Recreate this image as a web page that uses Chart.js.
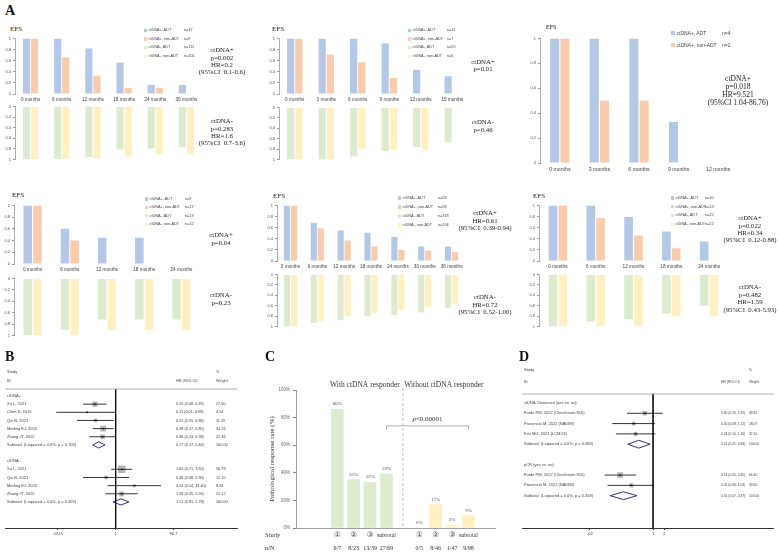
<!DOCTYPE html>
<html>
<head>
<meta charset="utf-8">
<script src="https://cdn.jsdelivr.net/npm/chart.js@4.4.0/dist/chart.umd.min.js"></script>
<style>
body { margin: 0; background: #fff; }
#fig { position: relative; width: 778px; height: 553px; overflow: hidden; background: #fff; }
#fig canvas { position: absolute; }
.t { position: absolute; white-space: nowrap; }
.serif { font-family: "Liberation Serif", "Times New Roman", serif; color: #222; }
.sans { font-family: "Liberation Sans", Arial, sans-serif; color: #444; }
.ann { text-align: center; transform: translateX(-50%); }
.letter { font-family: "Liberation Serif", serif; font-weight: bold; font-size: 14px; line-height: 14px; color: #111; }
</style>
</head>
<body>
<div id="fig"></div>
<script>
// ---- panel A data (EFS by ctDNA status) ----
var groupNames = ['ctDNA+, ADT', 'ctDNA+, non-ADT', 'ctDNA-, ADT', 'ctDNA-, non-ADT'];

var s1Months = ['0 months', '6 months', '12 months', '18 months', '24 months', '30 months'];
var s1PosADT = [1, 1, 0.82, 0.56, 0.16, 0.16];
var s1PosNon = [1, 0.66, 0.33, 0.11, 0.11, null];
var s1NegADT = [1, 0.99, 0.95, 0.81, 0.79, 0.77];
var s1NegNon = [1, 0.98, 0.97, 0.94, 0.9, 0.9];
var s1N = ['n=37', 'n=9', 'n=112', 'n=101'];

var s2Months = ['0 months', '3 months', '6 months', '9 months', '12 months', '15 months'];
var s2PosADT = [1, 1, 1, 0.91, 0.43, 0.32];
var s2PosNon = [1, 0.71, 0.57, 0.29, null, null];
var s2NegADT = [1, 1, 0.94, 0.84, 0.76, 0.67];
var s2NegNon = [1, 1, 0.8, 0.8, 0.8, null];
var s2N = ['n=11', 'n=7', 'n=55', 'n=6'];

var s3Months = ['0 months', '3 months', '6 months', '9 months', '12 months'];
var s3PosADT = [1, 1, 1, 0.33, null];
var s3PosNon = [1, 0.5, 0.5, null, null];
var s3N = ['n=4', 'n=2'];

var s4Months = ['0 months', '6 months', '12 months', '18 months', '24 months'];
var s4PosADT = [1, 0.6, 0.45, 0.45, null];
var s4PosNon = [1, 0.4, null, null, null];
var s4NegADT = [1, 0.9, 0.72, 0.72, 0.72];
var s4NegNon = [1, 1, 0.9, 0.9, 0.9];
var s4N = ['n=9', 'n=17', 'n=13', 'n=12'];

var s5Months = ['0 months', '6 months', '12 months', '18 months', '24 months', '30 months', '36 months'];
var s5PosADT = [1, 0.69, 0.55, 0.51, 0.43, 0.26, 0.26];
var s5PosNon = [1, 0.59, 0.37, 0.26, 0.2, 0.19, 0.16];
var s5NegADT = [1, 0.93, 0.88, 0.8, 0.78, 0.73, 0.64];
var s5NegNon = [1, 0.9, 0.8, 0.74, 0.68, 0.62, 0.56];
var s5N = ['n=58', 'n=58', 'n=318', 'n=204'];

var s6Months = ['0 months', '6 months', '12 months', '18 months', '24 months'];
var s6PosADT = [1, 1, 0.79, 0.53, 0.35];
var s6PosNon = [1, 0.77, 0.46, 0.23, null];
var s6NegADT = [1, 0.9, 0.86, 0.75, 0.6];
var s6NegNon = [1, 1, 1, 0.8, 0.8];
var s6N = ['n=10', 'n=13', 'n=22', 'n=22'];

// ---- panel B data (forest, HR by ctDNA) ----
var bNames = ['ctDNA+', 'Xu L, 2021', 'Chen K, 2019', 'Qiu B, 2021', 'Meding EJ, 2020', 'Zhang JT, 2022',
  'Subtotal  (I-squared = 0.0%, p = 0.706)', '', 'ctDNA-', 'Xu L, 2021', 'Qiu B, 2021', 'Meding EJ, 2020',
  'Zhang JT, 2022', 'Subtotal  (I-squared = 0.0%, p = 0.459)'];
var bHR = [null, 0.20, 0.11, 0.21, 0.38, 0.36, 0.27, null, null, 1.60, 0.48, 4.24, 1.58, 1.51];
var bLow = [null, 0.08, 0.01, 0.05, 0.17, 0.13, 0.17, null, null, 0.71, 0.08, 0.54, 0.45, 0.81];
var bHigh = [null, 0.49, 0.98, 0.86, 0.85, 0.98, 0.44, null, null, 3.60, 2.80, 33.40, 5.56, 2.78];
var bWeight = [null, 27.60, 4.54, 11.29, 34.26, 22.36, 100.00, null, null, 56.79, 12.15, 8.94, 22.12, 100.00];
var bTicks = [0.0115, 1, 86.7];
var bTickLabels = ['.0115', '1', '86.7'];

// ---- panel C data (pathological response) ----
var cStudy = ['\u2460', '\u2461', '\u2462', 'subtotal'];
var cWith = [86, 35, 33, 39];
var cWithout = [0, 17, 2, 9];
var cWithN = ['6/7', '8/23', '13/39', '27/69'];
var cWithoutN = ['0/5', '8/46', '1/47', '9/98'];

// ---- panel D data (forest, EFS by clearance / pCR) ----
var dNames = ['ctDNA Clearance (yes vs. no)', 'Forde PM, 2022 (Checkmate 816)', 'Provencio M, 2022 (NADIM)',
  'Kris MG, 2021 (LCMC3)', 'Subtotal  (I-squared = 0.0%, p = 0.683)', '', 'pCR (yes vs. no)',
  'Forde PM, 2022 (Checkmate 816)', 'Provencio M, 2022 (NADIM)', 'Subtotal  (I-squared = 0.0%, p = 0.458)'];
var dHR = [null, 0.60, 0.30, 0.34, 0.41, null, null, 0.13, 0.26, 0.16];
var dLow = [null, 0.20, 0.08, 0.10, 0.21, null, null, 0.05, 0.06, 0.07];
var dHigh = [null, 1.81, 1.12, 1.16, 0.83, null, null, 0.35, 1.03, 0.37];
var dWeight = [null, 39.82, 28.07, 32.10, 100.00, null, null, 66.40, 33.60, 100.00];
var dTicks = [0.02, 1, 2];
var dTickLabels = ['.02', '1', '2'];

var BLUE = '#b4c7e7', ORANGE = '#f8cbad', GREEN = '#dcebd0', YELLOW = '#fff0c4';
var fig = document.getElementById('fig');

function addCanvas(l, t, w, h) {
    var c = document.createElement('canvas');
    c.width = w; c.height = h;
    c.style.left = l + 'px'; c.style.top = t + 'px';
    c.style.width = w + 'px'; c.style.height = h + 'px';
    fig.appendChild(c);
    return c;
}

function txt(x, y, s, cls, css) {
    var d = document.createElement('div');
    d.className = 't ' + cls;
    d.style.left = x + 'px'; d.style.top = y + 'px';
    if (css) d.style.cssText += css;
    d.innerHTML = s;
    fig.appendChild(d);
    return d;
}

function ann(cx, y1, lines, fs, lh) {
    txt(cx, y1 - lh / 2, lines.join('<br>'), 'serif ann', 'font-size:' + fs + 'px;line-height:' + lh + 'px;');
}

function legend(x, y0, rowH, names, ns, colors, nX, fs) {
    for (var i = 0; i < names.length; i++) {
        var y = y0 + i * rowH, s = fs * 0.8;
        var b = document.createElement('div');
        b.style.cssText = 'position:absolute;left:' + x + 'px;top:' + (y - s / 2) + 'px;width:' + s + 'px;height:' + s + 'px;background:' + colors[i];
        fig.appendChild(b);
        var css = 'font-size:' + fs + 'px;line-height:' + (fs * 1.2) + 'px;';
        txt(x + s + 1.5, y - fs * 0.6, names[i], 'sans', css);
        txt(nX, y - fs * 0.6, ns[i], 'sans', css);
    }
}

function fmtTick(v) {
    if (Math.abs(v) < 1e-9) return '0';
    if (Math.abs(v - 1) < 1e-9) return '1';
    return v.toFixed(1);
}

// one half (upper ctDNA+ / lower ctDNA-) of an EFS panel
function efsHalf(area, labels, a, b, colA, colB, lower, xFont) {
    var padT = lower ? 3 : 4, padB = lower ? 3 : 0, axW = 14;
    var xH = lower ? 0 : (area.xh || 10);
    var c = addCanvas(area.l - axW, area.t - padT, area.r - area.l + axW + 2, area.b - area.t + padT + padB + xH);
    new Chart(c, {
        type: 'bar',
        data: {
            labels: labels,
            datasets: [
                { data: a, backgroundColor: colA, categoryPercentage: 0.52, barPercentage: 0.88 },
                { data: b, backgroundColor: colB, categoryPercentage: 0.52, barPercentage: 0.88 }
            ]
        },
        options: {
            responsive: false,
            animation: false,
            layout: { padding: { top: padT, right: 2, bottom: padB, left: 0 } },
            plugins: { legend: { display: false }, tooltip: { enabled: false } },
            scales: {
                x: {
                    display: !lower,
                    grid: { display: false, drawTicks: false },
                    border: { display: false },
                    ticks: { font: { family: 'Liberation Sans', size: xFont || 4.7 }, color: '#444', padding: 3, maxRotation: 0, autoSkip: false },
                    afterFit: function(s) { s.height = xH; }
                },
                y: {
                    min: 0, max: 1, reverse: lower,
                    ticks: { stepSize: 0.2, font: { family: 'Liberation Sans', size: 4 }, color: '#555', padding: 2, callback: fmtTick },
                    grid: { display: true, drawOnChartArea: false, drawTicks: true, tickLength: 2, color: '#999' },
                    border: { display: true, color: '#999', width: 0.8 },
                    afterFit: function(s) { s.width = axW; }
                }
            }
        }
    });
}

// ---- panel A ----
txt(5, 4, 'A', 'letter');
var efsCss = 'font-size:7px;line-height:8px;';

txt(10, 25, 'EFS', 'serif', efsCss);
efsHalf({ l: 15, t: 38, r: 202, b: 94 }, s1Months, s1PosADT, s1PosNon, BLUE, ORANGE, false);
efsHalf({ l: 15, t: 105, r: 202, b: 161 }, s1Months, s1NegADT, s1NegNon, GREEN, YELLOW, true);
legend(144, 30.3, 8.7, groupNames, s1N, [BLUE, ORANGE, GREEN, YELLOW], 184, 3.8);
ann(222, 50, ['ctDNA+', 'p=0.002', 'HR=0.2', '(95%CI&nbsp; 0.1-0.6)'], 6.8, 7.1);
ann(222, 121, ['ctDNA-', 'p=0.283', 'HR=1.6', '(95%CI&nbsp; 0.7-3.6)'], 6.8, 7.1);

txt(272, 25, 'EFS', 'serif', efsCss);
efsHalf({ l: 279, t: 38, r: 468, b: 94 }, s2Months, s2PosADT, s2PosNon, BLUE, ORANGE, false);
efsHalf({ l: 279, t: 106, r: 468, b: 161 }, s2Months, s2NegADT, s2NegNon, GREEN, YELLOW, true);
legend(408, 30.3, 8.7, groupNames, s2N, [BLUE, ORANGE, GREEN, YELLOW], 447, 3.8);
ann(483, 61.5, ['ctDNA+', 'p=0.01'], 6.8, 7.3);
ann(483, 122, ['ctDNA-', 'p=0.46'], 6.8, 7.3);

txt(546, 23, 'EFS', 'serif', 'font-size:6px;line-height:8px;');
efsHalf({ l: 540, t: 38, r: 738, b: 163, xh: 13 }, s3Months, s3PosADT, s3PosNon, BLUE, ORANGE, false, 5.2);
legend(671, 33, 12, groupNames.slice(0, 2), s3N, [BLUE, ORANGE], 722, 5);
ann(738, 79, ['ctDNA+', 'p=0.018', 'HR=9.521', '(95%CI 1.04-86.76)'], 7.5, 8);

txt(12, 191, 'EFS', 'serif', efsCss);
efsHalf({ l: 14, t: 205, r: 200, b: 264 }, s4Months, s4PosADT, s4PosNon, BLUE, ORANGE, false);
efsHalf({ l: 14, t: 277, r: 200, b: 337 }, s4Months, s4NegADT, s4NegNon, GREEN, YELLOW, true);
legend(145, 199, 8.4, groupNames, s4N, [BLUE, ORANGE, GREEN, YELLOW], 185, 3.8);
ann(221, 235, ['ctDNA+', 'p=0.04'], 6.8, 7.3);
ann(221, 295, ['ctDNA-', 'p=0.23'], 6.8, 7.3);

txt(273, 192, 'EFS', 'serif', efsCss);
efsHalf({ l: 277, t: 205, r: 465, b: 261 }, s5Months, s5PosADT, s5PosNon, BLUE, ORANGE, false);
efsHalf({ l: 277, t: 273, r: 465, b: 328 }, s5Months, s5NegADT, s5NegNon, GREEN, YELLOW, true);
legend(398, 198, 9, groupNames, s5N, [BLUE, ORANGE, GREEN, YELLOW], 438, 3.8);
ann(485, 213, ['ctDNA+', 'HR=0.61', '(95%CI&nbsp; 0.39-0.94)'], 6.8, 7.5);
ann(485, 297, ['ctDNA-', 'HR=0.72', '(95%CI&nbsp; 0.52-1.00)'], 6.8, 7.5);

txt(533, 192, 'EFS', 'serif', efsCss);
efsHalf({ l: 539, t: 205, r: 728, b: 261 }, s6Months, s6PosADT, s6PosNon, BLUE, ORANGE, false);
efsHalf({ l: 539, t: 273, r: 728, b: 328 }, s6Months, s6NegADT, s6NegNon, GREEN, YELLOW, true);
legend(671, 198, 8.8, groupNames, s6N, [BLUE, ORANGE, GREEN, YELLOW], 705, 3.8);
ann(750, 218, ['ctDNA+', 'p=0.022', 'HR=0.34', '(95%CI&nbsp; 0.12-0.88)'], 6.8, 7.2);
ann(750, 287, ['ctDNA-', 'p=0.482', 'HR=1.59', '(95%CI&nbsp; 0.43-5.93)'], 6.8, 7.6);

// ---- forest plots (B, D) ----
function forestPlot(left, top, w, h, pad, names, hr, lo, hi, wt, ax) {
    var c = addCanvas(left, top, w, h);
    var ds = [], boxes = [], radii = [], dots = [];
    for (var i = 0; i < names.length; i++) {
        if (hr[i] == null) continue;
        if (names[i].indexOf('Subtotal') === 0) {
            ds.push({
                showLine: true, order: 1, pointRadius: 0, borderColor: '#1c1c7c', borderWidth: 0.9,
                data: [{ x: lo[i], y: i }, { x: hr[i], y: i - 0.38 }, { x: hi[i], y: i }, { x: hr[i], y: i + 0.38 }, { x: lo[i], y: i }]
            });
        } else {
            ds.push({ showLine: true, order: 1, pointRadius: 0, borderColor: '#000', borderWidth: 0.8,
                data: [{ x: lo[i], y: i }, { x: hi[i], y: i }] });
            boxes.push({ x: hr[i], y: i });
            radii.push(ax.box * Math.sqrt(wt[i]) / Math.SQRT2);
            dots.push({ x: hr[i], y: i });
        }
    }
    ds.push({ data: boxes, order: 2, pointStyle: 'rect', pointRadius: radii, backgroundColor: '#b5b5b5', borderWidth: 0 });
    ds.push({ data: dots, order: 0, pointStyle: 'rect', pointRadius: 0.9, backgroundColor: '#000', borderWidth: 0 });
    ds.push({ data: [{ x: 1, y: ax.yMin }, { x: 1, y: ax.yMax }], order: 0, showLine: true, pointRadius: 0, borderColor: '#000', borderWidth: 0.8 });

    var textPlugin = {
        id: 'forestText',
        afterDraw: function(chart) {
            var ctx = chart.ctx, a = chart.chartArea, ys = chart.scales.y;
            var nameFont = ax.fs + 'px "Liberation Sans", Arial, sans-serif';
            var numFont = ax.numFs + 'px "Liberation Sans", Arial, sans-serif';
            ctx.save();
            ctx.strokeStyle = '#999'; ctx.lineWidth = 0.8;
            ctx.beginPath(); ctx.moveTo(a.left, a.top); ctx.lineTo(a.right, a.top); ctx.stroke();
            ctx.fillStyle = '#444';
            ctx.textBaseline = 'middle'; ctx.textAlign = 'left';
            ctx.font = nameFont;
            ctx.fillText('Study', ax.nameX, a.top - ax.h1);
            ctx.fillText('ID', ax.nameX, a.top - ax.h2);
            ctx.font = numFont;
            ctx.fillText('HR (95% CI)', ax.hrX, a.top - ax.h2);
            ctx.fillText('%', ax.wX, a.top - ax.h1);
            ctx.fillText('Weight', ax.wX, a.top - ax.h2);
            for (var i = 0; i < names.length; i++) {
                var py = ys.getPixelForValue(i);
                ctx.font = nameFont;
                ctx.fillText(names[i], ax.nameX, py);
                if (hr[i] != null) {
                    ctx.font = numFont;
                    ctx.fillText(hr[i].toFixed(2) + ' (' + lo[i].toFixed(2) + ', ' + hi[i].toFixed(2) + ')', ax.hrX, py);
                    ctx.fillText(wt[i].toFixed(2), ax.wX, py);
                }
            }
            ctx.restore();
        }
    };

    new Chart(c, {
        type: 'scatter',
        data: { datasets: ds },
        plugins: [textPlugin],
        options: {
            responsive: false,
            animation: false,
            layout: { padding: pad },
            plugins: { legend: { display: false }, tooltip: { enabled: false } },
            scales: {
                x: {
                    type: 'logarithmic', min: ax.xMin, max: ax.xMax,
                    afterBuildTicks: function(s) { s.ticks = ax.ticks.map(function(v) { return { value: v }; }); },
                    ticks: { autoSkip: false, maxRotation: 0, padding: 1, color: '#444',
                        font: { family: 'Liberation Sans', size: 4 },
                        callback: function(v, idx) { return ax.tickLabels[idx]; } },
                    grid: { display: true, drawOnChartArea: false, drawTicks: true, tickLength: 2, color: '#000', lineWidth: 0.8 },
                    border: { display: true, color: '#000', width: 0.8 },
                    afterFit: function(s) { s.height = 12; }
                },
                y: { type: 'linear', display: false, min: ax.yMin, max: ax.yMax, reverse: true }
            }
        }
    });
}

txt(5, 350, 'B', 'letter');
forestPlot(0, 360, 260, 180, { top: 29, left: 4, right: 23, bottom: 0 },
    bNames, bHR, bLow, bHigh, bWeight,
    { xMin: 0.000195, xMax: 12000, ticks: bTicks, tickLabels: bTickLabels, yMin: -0.86, yMax: 16.2,
      box: 1.0, nameX: 7, hrX: 176, wX: 216, h1: 17, h2: 8, fs: 4, numFs: 3.8 });

txt(519, 350, 'D', 'letter');
forestPlot(518, 365, 260, 175, { top: 29, left: 2, right: 0, bottom: 0 },
    dNames, dHR, dLow, dHigh, dWeight,
    { xMin: 0.000348, xMax: 1781, ticks: dTicks, tickLabels: dTickLabels, yMin: -0.874, yMax: 12.14,
      box: 0.7, nameX: 6, hrX: 203, wX: 231, h1: 24, h2: 12, fs: 4, numFs: 3.3 });

// ---- panel C ----
txt(265, 350, 'C', 'letter');
(function() {
    var pts = [], cols = [], tops = [], ns = [];
    cWith.forEach(function(v, i) { pts.push({ x: i, y: v }); cols.push(GREEN); tops.push(cStudy[i]); ns.push(cWithN[i]); });
    var gap = cWith.length;
    cWithout.forEach(function(v, i) { pts.push({ x: gap + 1 + i, y: v }); cols.push(YELLOW); tops.push(cStudy[i]); ns.push(cWithoutN[i]); });
    var last = pts.length;

    var cPlugin = {
        id: 'cText',
        afterDraw: function(chart) {
            var ctx = chart.ctx, a = chart.chartArea, xs = chart.scales.x, ys = chart.scales.y;
            var meta = chart.getDatasetMeta(0);
            ctx.save();
            // dashed divider
            ctx.strokeStyle = '#aaa'; ctx.lineWidth = 0.7; ctx.setLineDash([3, 2]);
            ctx.beginPath(); ctx.moveTo(xs.getPixelForValue(gap), a.top - 2); ctx.lineTo(xs.getPixelForValue(gap), a.bottom); ctx.stroke();
            ctx.setLineDash([]);
            // value labels
            ctx.fillStyle = '#555'; ctx.textAlign = 'center'; ctx.textBaseline = 'alphabetic';
            ctx.font = '5px "Liberation Serif", serif';
            meta.data.forEach(function(el, i) {
                ctx.fillText(pts[i].y + '%', el.x, el.y - 4);
            });
            // study / n rows
            ctx.fillStyle = '#333'; ctx.textBaseline = 'middle';
            meta.data.forEach(function(el, i) {
                ctx.font = (tops[i] === 'subtotal' ? '6px' : '7.5px') + ' "Liberation Serif", "DejaVu Sans", serif';
                ctx.fillText(tops[i], el.x, a.bottom + 7);
                ctx.font = '6px "Liberation Serif", serif';
                ctx.fillText(ns[i], el.x, a.bottom + 20);
            });
            ctx.textAlign = 'left'; ctx.font = '6.5px "Liberation Serif", serif';
            ctx.fillText('Study', 0, a.bottom + 7);
            ctx.fillText('n/N', 0, a.bottom + 20);
            // group titles
            ctx.textAlign = 'center'; ctx.font = '7.5px "Liberation Serif", serif';
            ctx.fillText('With ctDNA responder', (xs.getPixelForValue(0) + xs.getPixelForValue(gap - 1)) / 2 + 3, a.top - 5);
            ctx.fillText('Without ctDNA responder', (xs.getPixelForValue(gap + 1) + xs.getPixelForValue(last)) / 2, a.top - 5);
            // bracket between subtotals
            var x1 = xs.getPixelForValue(gap - 1), x2 = xs.getPixelForValue(last), yb = ys.getPixelForValue(74), yd = ys.getPixelForValue(71.5);
            ctx.strokeStyle = '#999'; ctx.lineWidth = 0.8;
            ctx.beginPath(); ctx.moveTo(x1, yd); ctx.lineTo(x1, yb); ctx.lineTo(x2, yb); ctx.lineTo(x2, yd); ctx.stroke();
            var cx = (x1 + x2) / 2, ty = yb - 7;
            ctx.font = 'italic 7px "Liberation Serif", serif';
            var w1 = ctx.measureText('p').width;
            ctx.font = '7px "Liberation Serif", serif';
            var w2 = ctx.measureText('<0.00001').width;
            ctx.textAlign = 'left';
            ctx.fillStyle = '#333';
            ctx.font = 'italic 7px "Liberation Serif", serif';
            ctx.fillText('p', cx - (w1 + w2) / 2, ty);
            ctx.font = '7px "Liberation Serif", serif';
            ctx.fillText('<0.00001', cx - (w1 + w2) / 2 + w1, ty);
            ctx.restore();
        }
    };

    var c = addCanvas(265, 378, 235, 175);
    new Chart(c, {
        type: 'bar',
        data: { datasets: [{ data: pts, backgroundColor: cols, barThickness: 12 }] },
        plugins: [cPlugin],
        options: {
            responsive: false,
            animation: false,
            layout: { padding: { top: 12, right: 5, left: 0, bottom: 0 } },
            plugins: { legend: { display: false }, tooltip: { enabled: false } },
            scales: {
                x: {
                    type: 'linear', min: -1, max: last + 0.1,
                    ticks: { display: false },
                    grid: { display: false, drawTicks: false },
                    border: { display: true, color: '#888', width: 0.8 },
                    afterFit: function(s) { s.height = 25; }
                },
                y: {
                    min: 0, max: 100,
                    ticks: { stepSize: 20, padding: 3, color: '#666', font: { family: 'Liberation Sans', size: 4.5 },
                        callback: function(v) { return v + '%'; } },
                    grid: { display: true, drawOnChartArea: false, drawTicks: true, tickLength: 3, color: '#888' },
                    border: { display: true, color: '#888', width: 0.8 },
                    title: { display: true, text: 'Pathological response rate (%)', color: '#333',
                        font: { family: 'Liberation Serif', size: 7 }, padding: { top: 3, bottom: 0 } },
                    afterFit: function(s) { s.width = 31; }
                }
            }
        }
    });
})();
</script>
</body>
</html>
